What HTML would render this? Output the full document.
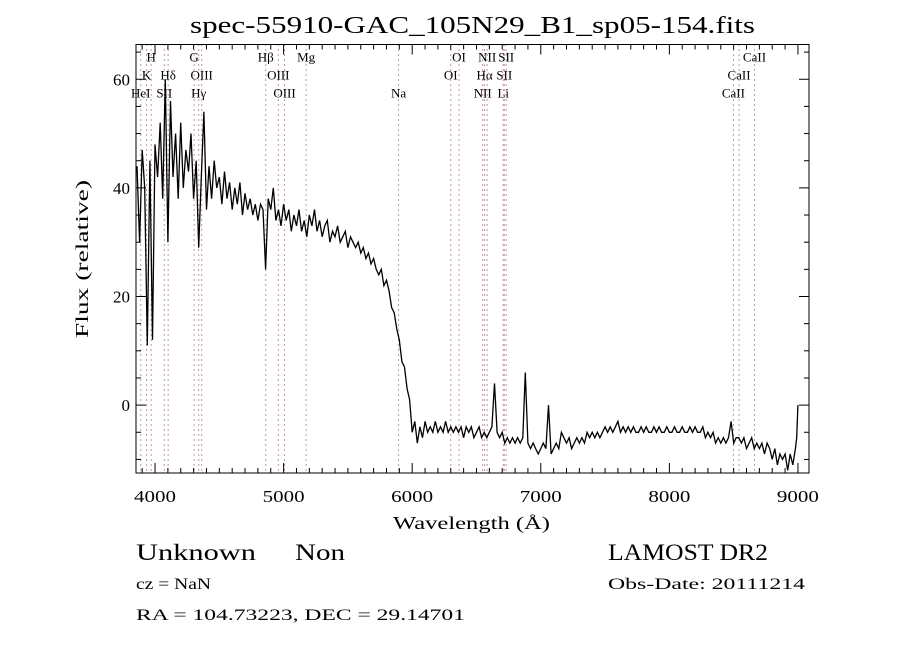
<!DOCTYPE html>
<html><head><meta charset="utf-8"><style>
html,body{margin:0;padding:0;background:#fff;}
svg{display:block;font-family:"Liberation Serif","DejaVu Serif",serif;}
</style></head><body>
<svg id="chart" width="900" height="650" viewBox="0 0 900 650" xmlns="http://www.w3.org/2000/svg">
<rect width="900" height="650" fill="#fff"/>
<text x="190" y="33" font-size="24" textLength="565" lengthAdjust="spacingAndGlyphs">spec-55910-GAC_105N29_B1_sp05-154.fits</text>
<g id="lines"></g>
<g id="ticks"></g>
<path id="spec" fill="none" stroke="#000" stroke-width="1.3"/>
<rect x="136" y="44.5" width="673" height="428.5" fill="none" stroke="#000" stroke-width="1"/>
<text x="393" y="529" font-size="18" textLength="157" lengthAdjust="spacingAndGlyphs">Wavelength (Å)</text>
<text transform="translate(88,338) rotate(-90)" font-size="18" textLength="158" lengthAdjust="spacingAndGlyphs">Flux (relative)</text>
<text x="136" y="560" font-size="23" textLength="120" lengthAdjust="spacingAndGlyphs">Unknown</text>
<text x="295" y="560" font-size="23" textLength="50" lengthAdjust="spacingAndGlyphs">Non</text>
<text x="608" y="560" font-size="23" textLength="160" lengthAdjust="spacingAndGlyphs">LAMOST DR2</text>
<text x="136" y="589" font-size="16" textLength="75" lengthAdjust="spacingAndGlyphs">cz = NaN</text>
<text x="608" y="589" font-size="16" textLength="197" lengthAdjust="spacingAndGlyphs">Obs-Date: 20111214</text>
<text x="136" y="620" font-size="16" textLength="329" lengthAdjust="spacingAndGlyphs">RA = 104.73223, DEC =  29.14701</text>
</svg>
<script>
const waves = [3860,3880,3900,3920,3940,3960,3980,4000,4020,4040,4060,4080,4100,4120,4140,4160,4180,4200,4220,4240,4260,4280,4300,4320,4340,4360,4380,4400,4420,4440,4460,4480,4500,4520,4540,4560,4580,4600,4620,4640,4660,4680,4700,4720,4740,4760,4780,4800,4820,4840,4860,4880,4900,4920,4940,4960,4980,5000,5020,5040,5060,5080,5100,5120,5140,5160,5180,5200,5220,5240,5260,5280,5300,5320,5340,5360,5380,5400,5420,5440,5460,5480,5500,5520,5540,5560,5580,5600,5620,5640,5660,5680,5700,5720,5740,5760,5780,5800,5820,5840,5860,5880,5900,5920,5940,5960,5980,6000,6020,6040,6060,6080,6100,6120,6140,6160,6180,6200,6220,6240,6260,6280,6300,6320,6340,6360,6380,6400,6420,6440,6460,6480,6500,6520,6540,6560,6580,6600,6620,6640,6660,6680,6700,6720,6740,6760,6780,6800,6820,6840,6860,6880,6900,6920,6940,6960,6980,7000,7020,7040,7060,7080,7100,7120,7140,7160,7180,7200,7220,7240,7260,7280,7300,7320,7340,7360,7380,7400,7420,7440,7460,7480,7500,7520,7540,7560,7580,7600,7620,7640,7660,7680,7700,7720,7740,7760,7780,7800,7820,7840,7860,7880,7900,7920,7940,7960,7980,8000,8020,8040,8060,8080,8100,8120,8140,8160,8180,8200,8220,8240,8260,8280,8300,8320,8340,8360,8380,8400,8420,8440,8460,8480,8500,8520,8540,8560,8580,8600,8620,8640,8660,8680,8700,8720,8740,8760,8780,8800,8820,8840,8860,8880,8900,8920,8940,8960,8980,8990,9000];
const flux = [44,30,47,40,11,45,12,48,42,52,38,60,30,56,42,50,38,52,40,47,43,50,38,45,29,42,54,36,44,38,45,40,42,37,43,38,41,36,40,37,41,35,39,36,38,35,37,34,37,36,25,38,36,40,34,36,33,37,34,36,32,35,33,36,32,34,31,35,33,36,32,34,31,33,34,30,32,31,33,30,31,32,29,31,30,29,30,28,29,27,28,26,27,25,24,25,22,23,21,18,17,14,12,8,7,3,1,-5,-3,-7,-4,-6,-3,-5,-4,-5,-3,-5,-4,-5,-3,-5,-4,-5,-4,-5,-4,-6,-4,-5,-4,-6,-5,-4,-6,-5,-6,-5,-4,4,-5,-6,-5,-7,-6,-7,-6,-7,-6,-7,-6,6,-7,-8,-7,-8,-9,-8,-7,-8,0,-9,-8,-7,-8,-5,-6,-7,-6,-8,-7,-6,-7,-6,-7,-5,-6,-5,-6,-5,-6,-5,-4,-5,-4,-5,-4,-3,-5,-4,-5,-4,-5,-4,-5,-5,-4,-5,-4,-5,-5,-4,-5,-4,-5,-5,-4,-5,-5,-4,-5,-5,-4,-5,-5,-4,-5,-4,-5,-5,-4,-6,-5,-6,-5,-7,-6,-7,-6,-7,-6,-3,-7,-6,-6,-7,-6,-8,-7,-6,-8,-7,-8,-7,-9,-7,-8,-10,-8,-11,-9,-10,-9,-12,-9,-11,-8,-6,0];
const xTicks = [4000,5000,6000,7000,8000,9000];
const yTicks = [0,20,40,60];
const lineWaves = [3889,3934,3970,4072,4102,4304,4340,4363,4861,4959,5007,5175,5894,6300,6364,6548,6563,6583,6708,6716,6731,8498,8542,8662];
const lineNames = ["HeI","K","H","SII","Hδ","G","Hγ","OIII","Hβ","OIII","OIII","Mg","Na","OI","OI","NII","Hα","NII","Li","SII","SII","CaII","CaII","CaII"];
const lineRows = [3,2,1,3,2,1,3,2,1,2,3,1,3,2,1,3,2,1,3,2,1,3,2,1];

const X0=3852, X1=9086, Y0=-12.5, Y1=66.4, L=136, R=809, T=44.5, B=473;
const xs = w => L + (w - X0) / (X1 - X0) * (R - L);
const ys = f => B - (f - Y0) / (Y1 - Y0) * (B - T);
const NS = "http://www.w3.org/2000/svg";
function mk(tag, attrs, parent){const e=document.createElementNS(NS,tag);for(const k in attrs)e.setAttribute(k,attrs[k]);parent.appendChild(e);return e;}

const spec = document.getElementById('spec');
spec.setAttribute('d', waves.map((w,i)=>(i?'L':'M')+xs(w).toFixed(1)+' '+ys(flux[i]).toFixed(1)).join(' '));

const lg = document.getElementById('lines');
lineWaves.forEach((w,i)=>{
  const x = xs(w);
  const ln = mk('line',{x1:x,x2:x,y1:T,y2:B,stroke:'#8b3030','stroke-width':1,'stroke-dasharray':'1 4'},lg);
  
  
  const t = mk('text',{x:x,y:T+17+(lineRows[i]-1)*18,'font-size':13,'text-anchor':'middle'},lg);
  t.textContent = lineNames[i];
  
  
});

const tg = document.getElementById('ticks');
for(let w=3900; w<=9000; w+=100){
  const x = xs(w), major = w%1000===0;
  const len = major?10:5;
  const a = mk('line',{x1:x,x2:x,y1:B,y2:B-len,stroke:'#000'},tg);
  
  
  const b = mk('line',{x1:x,x2:x,y1:T,y2:T+len,stroke:'#000'},tg);
  
  
}
xTicks.forEach(w=>{
  const t = mk('text',{x:xs(w)-21,y:502,'font-size':17,textLength:42,lengthAdjust:'spacingAndGlyphs'},tg);
  t.textContent = w;
  
  
});
for(let f=-10; f<=65; f+=5){
  const y = ys(f), major = f%20===0;
  const len = major?10:5;
  const a = mk('line',{x1:L,x2:L+len,y1:y,y2:y,stroke:'#000'},tg);
  
  
  const b = mk('line',{x1:R,x2:R-len,y1:y,y2:y,stroke:'#000'},tg);
  
  
}
yTicks.forEach(f=>{
  const t = mk('text',{x:130,y:ys(f)+6,'font-size':17,'text-anchor':'end'},tg);
  t.textContent = f;
  
  
});
</script>
</body></html>
